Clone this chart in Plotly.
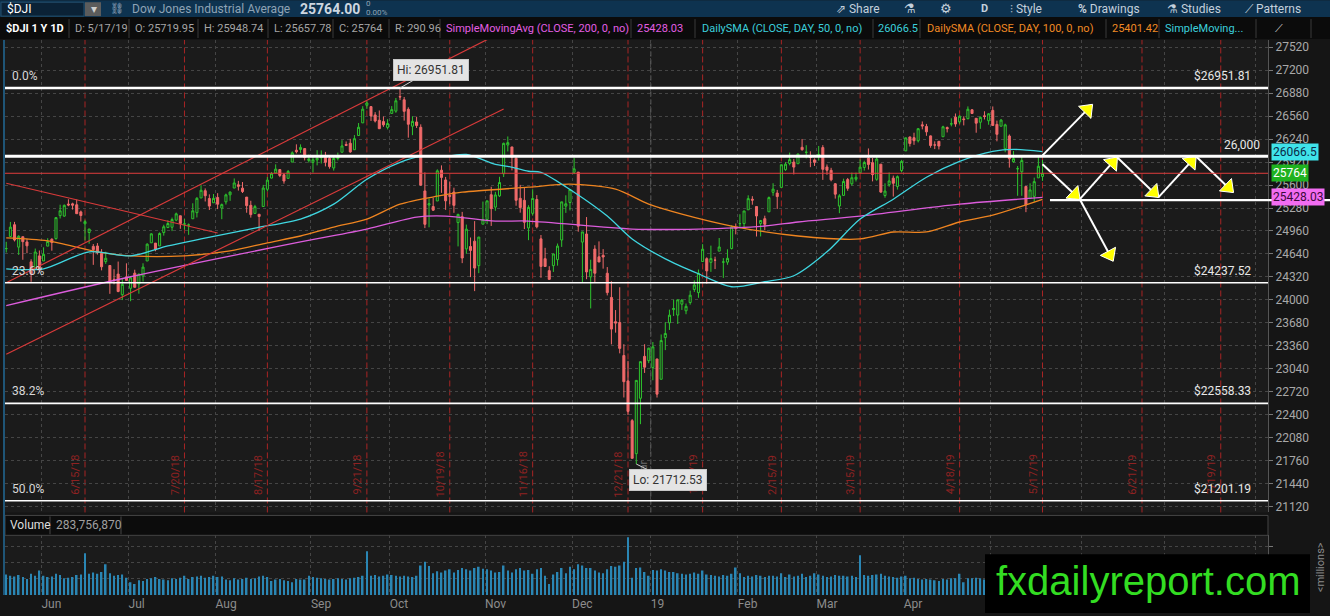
import pandas as pd
import plotly.graph_objects as go

# page geometry (pixels) and helpers to place paper-referenced decorations
W, H = 1330, 616
ML, MR, MT, MB = 5, 62, 40, 18
PW, PH = W - ML - MR, H - MT - MB


def px(x):
    return (x - ML) / PW


def py(y):
    return (H - MB - y) / PH


# trading calendar
holidays = ['2018-05-28', '2018-07-04', '2018-09-03', '2018-11-22', '2018-12-05', '2018-12-25',
            '2019-01-01', '2019-01-21', '2019-02-18', '2019-04-19', '2019-05-27', '2019-07-04']
days = [d.strftime('%Y-%m-%d') for d in pd.bdate_range('2018-05-18', '2019-08-09')
        if d.strftime('%Y-%m-%d') not in holidays]


def pos(d):
    return days.index(d)


# ---- $DJI daily candles 5/18/18 .. 5/17/19 ----
open_ = [24713, 24883, 25047, 24735, 24880, 24807, 24530, 24435, 24613, 24542,
         24749, 24845, 24853, 25174, 25167, 25335, 25338, 25325, 25226, 25061,
         24939, 24745, 24751, 24648, 24533, 24479, 24287, 24359, 24072, 24319,
         24161, 24372, 24221, 24333, 24542, 24795, 24791, 24752, 24938, 25008,
         25012, 25111, 25172, 25057, 25040, 25130, 25215, 25420, 25521, 25412,
         25353, 25427, 25279, 25366, 25464, 25558, 25603, 25557, 25432, 25317,
         25205, 25193, 25301, 25541, 25697, 25768, 25815, 25743, 25693, 25920,
         26085, 26095, 26108, 25941, 25916, 25950, 25979, 25986, 25971, 25838,
         25969, 26057, 26164, 26182, 26092, 26290, 26466, 26711, 26693, 26577,
         26503, 26484, 26403, 26598, 26630, 26833, 26788, 26655, 26420, 26479,
         26404, 25518, 25322, 25300, 25378, 25807, 25671, 25455, 25503, 25077,
         25159, 24710, 24744, 24818, 24477, 25055, 25120, 25465, 25293, 25449,
         25757, 26158, 26131, 25973, 25415, 25387, 25002, 25206, 25399, 24850,
         24574, 24407, 24477, 24561, 24834, 25306, 25357, 25779, 25780, 24805,
         24918, 24321, 24708, 24600, 24621, 24371, 24034, 23696, 23684, 23224,
         22871, 22317, 21857, 22629, 23213, 23153, 23058, 23177, 22894, 23474,
         23680, 23864, 23788, 23940, 23848, 23963, 24145, 24101, 24534, 24574,
         24523, 24553, 24679, 24526, 24526, 24716, 25011, 25062, 25063, 25255,
         25402, 25300, 25064, 25131, 25227, 25499, 25488, 25567, 25814, 25901,
         25920, 25897, 26126, 26055, 25988, 25950, 26019, 26122, 25852, 25805,
         25618, 25308, 25456, 25676, 25618, 25681, 25770, 25845, 25975, 25912,
         25680, 25891, 25454, 25605, 25696, 25580, 25802, 26076, 26270, 26260,
         26217, 26439, 26417, 26285, 26159, 26209, 26273, 26401, 26451, 26546,
         26480, 26521, 26525, 26649, 26530, 26475, 26565, 26496, 26640, 26445,
         26420, 26106, 26283, 25925, 25827, 25784, 25580, 25412, 25442, 25700, 25719.95]
high_ = [24809, 25086, 25087, 24901, 24880, 24850, 24566, 24715, 24688, 24732,
         24859, 24858, 25147, 25326, 25329, 25402, 25354, 25398, 25244, 25116,
         24990, 24778, 24791, 24707, 24671, 24479, 24427, 24534, 24300, 24509,
         24326, 24420, 24370, 24510, 24788, 24928, 24791, 24940, 25047, 25110,
         25147, 25216, 25172, 25130, 25065, 25346, 25432, 25598, 25553, 25470,
         25475, 25487, 25342, 25480, 25511, 25692, 25658, 25642, 25432, 25381,
         25324, 25193, 25602, 25712, 25781, 25888, 25822, 25766, 25810, 26069,
         26167, 26167, 26108, 26025, 26009, 26086, 26083, 26062, 26008, 25991,
         26052, 26225, 26207, 26244, 26296, 26464, 26699, 26770, 26693, 26616,
         26639, 26555, 26518, 26700, 26813, 26951.81, 26827, 26683, 26559, 26552,
         26446, 25776, 25413, 25424, 25819, 25874, 25713, 25650, 25563, 25200,
         25226, 25049, 24869, 25097, 24878, 25370, 25380, 25576, 25505, 25715,
         26191, 26277, 26131, 26017, 25602, 25562, 25319, 25541, 25460, 24904,
         24725, 24469, 24640, 24785, 25366, 25457, 25538, 25980, 25780, 24947,
         25154, 24560, 24761, 24815, 24707, 24457, 24260, 23858, 24176, 23382,
         23150, 22339, 22878, 23139, 23382, 23333, 23413, 23177, 23518, 23688,
         23864, 24003, 24002, 24012, 23949, 24129, 24271, 24423, 24777, 24593,
         24756, 24602, 24862, 24582, 24705, 25039, 25064, 25193, 25239, 25457,
         25445, 25300, 25114, 25173, 25440, 25625, 25532, 25883, 25919, 26052,
         25964, 26040, 26242, 26155, 26070, 25971, 26144, 26156, 25887, 25840,
         25628, 25473, 25689, 25699, 25773, 25773, 25957, 25939, 26110, 25976,
         26010, 25891, 25624, 25775, 25732, 25734, 25950, 26259, 26275, 26329,
         26392, 26486, 26452, 26291, 26209, 26209, 26426, 26415, 26530, 26597,
         26574, 26558, 26696, 26655, 26530, 26556, 26628, 26602, 26695, 26498,
         26520, 26455, 26305, 26076, 25865, 26002, 25580, 25624, 25703, 25991, 25948.74]
low_ = [24660, 24883, 24814, 24626, 24559, 24650, 24252, 24435, 24380, 24542,
        24749, 24685, 24840, 25134, 25158, 25305, 25258, 25201, 25091, 24829,
        24782, 24488, 24631, 24411, 24501, 24084, 24217, 24106, 23997, 24264,
        23981, 24174, 24086, 24256, 24542, 24795, 24677, 24752, 24895, 24999,
        24958, 25096, 24990, 24980, 24906, 25130, 25148, 25420, 25371, 25252,
        25353, 25265, 25124, 25328, 25380, 25558, 25523, 25489, 25214, 25146,
        25205, 24965, 25301, 25512, 25692, 25768, 25710, 25619, 25693, 25920,
        26041, 26048, 25943, 25913, 25774, 25874, 25900, 25860, 25828, 25801,
        25943, 26057, 26143, 26048, 26092, 26290, 26466, 26661, 26493, 26472,
        26380, 26411, 26375, 26598, 26607, 26783, 26498, 26260, 26295, 26395,
        25587, 25000, 25011, 25239, 25378, 25491, 25254, 25332, 25213, 24745,
        24512, 24642, 24317, 24122, 24372, 25055, 25055, 25030, 25241, 25434,
        25712, 26068, 25804, 25312, 25215, 24987, 24832, 25175, 24997, 24308,
        24464, 24279, 24389, 24477, 24738, 25212, 25246, 25752, 24950, 24242,
        24288, 23881, 24242, 24527, 24435, 24062, 23380, 23543, 23255, 22640,
        22396, 21792, 21712.53, 22268, 22982, 23118, 22880, 22639, 22894, 23300,
        23581, 23775, 23664, 23860, 23800, 23933, 24111, 24029, 24534, 24225,
        24390, 24429, 24679, 24306, 24489, 24703, 24913, 24999, 25002, 25255,
        25326, 24883, 24884, 24969, 25227, 25450, 25267, 25567, 25798, 25874,
        25748, 25897, 26079, 25971, 25849, 25866, 25940, 25672, 25743, 25652,
        25411, 25208, 25452, 25520, 25592, 25649, 25761, 25801, 25816, 25651,
        25659, 25491, 25423, 25576, 25440, 25537, 25776, 26076, 26137, 26160,
        26193, 26376, 26286, 26120, 26101, 26096, 26273, 26333, 26418, 26412,
        26452, 26431, 26516, 26589, 26329, 26383, 26514, 26440, 26427, 26209,
        26418, 26057, 25843, 25909, 25450, 25450, 25222, 25412, 25368, 25698, 25657.78]
close_ = [24715, 25013, 24834, 24886, 24811, 24753, 24361, 24667, 24416, 24635,
          24813, 24799, 25146, 25241, 25317, 25322, 25320, 25201, 25175, 25090,
          24987, 24700, 24657, 24461, 24580, 24252, 24283, 24117, 24216, 24271,
          24307, 24175, 24357, 24456, 24776, 24920, 24700, 24925, 25019, 25064,
          25120, 25199, 25064, 25058, 25044, 25241, 25415, 25527, 25451, 25307,
          25415, 25333, 25327, 25463, 25502, 25629, 25583, 25509, 25313, 25188,
          25299, 25162, 25558, 25669, 25758, 25822, 25733, 25656, 25790, 26049,
          26064, 26124, 25986, 25964, 25952, 25974, 25995, 25916, 25857, 25971,
          25998, 26145, 26154, 26062, 26246, 26405, 26657, 26743, 26562, 26492,
          26385, 26439, 26458, 26651, 26774, 26828, 26627, 26447, 26487, 26430,
          25599, 25053, 25340, 25250, 25798, 25706, 25380, 25444, 25317, 25191,
          24583, 24985, 24689, 24443, 24875, 25116, 25380, 25271, 25462, 25635,
          26181, 26191, 25989, 25387, 25286, 25081, 25289, 25413, 25018, 24466,
          24465, 24286, 24640, 24749, 25366, 25339, 25538, 25826, 25027, 24947,
          24389, 24424, 24371, 24528, 24597, 24101, 23593, 23676, 23324, 22860,
          22446, 21792, 22878, 23139, 23062, 23327, 23346, 22686, 23433, 23531,
          23787, 23879, 24001, 23996, 23910, 24065, 24207, 24370, 24706, 24404,
          24575, 24553, 24737, 24528, 24579, 25014, 24999, 25063, 25239, 25411,
          25390, 25169, 25106, 25053, 25425, 25543, 25439, 25883, 25891, 25954,
          25850, 26031, 26092, 26057, 25985, 25916, 26026, 25819, 25806, 25673,
          25473, 25450, 25650, 25554, 25702, 25709, 25849, 25914, 25887, 25745,
          25962, 25502, 25516, 25657, 25625, 25717, 25929, 26258, 26179, 26218,
          26385, 26425, 26341, 26151, 26158, 26143, 26412, 26385, 26453, 26450,
          26559, 26512, 26656, 26597, 26462, 26543, 26555, 26593, 26430, 26307,
          26505, 26439, 25966, 25968, 25828, 25942, 25324, 25532, 25648, 25862, 25764]
# volume, millions
volume = [320, 300, 290, 310, 280, 250, 330, 300, 380,
          300, 280, 290, 330, 310, 260, 270, 280, 310, 320, 650, 330, 350, 330, 360, 480, 340, 300, 310, 320, 270,
          200, 170, 230, 220, 250, 260, 280, 250, 240, 230, 260, 250, 270, 300, 250, 280, 290, 300, 270, 280, 300,
          280, 290, 240, 230, 260, 240, 250, 270, 250, 260, 290, 300, 280, 220, 240, 250, 230, 220, 200, 250, 240, 240, 300,
          280, 270, 260, 250, 240, 250, 260, 250, 240, 260, 270, 280, 300, 680, 300, 310, 290, 300, 320,
          310, 300, 290, 300, 290, 280, 300, 460, 520, 450, 340, 370, 350, 380, 400, 350, 390, 420, 400, 380, 420, 440, 410,
          400, 380, 350, 360, 460, 380, 350, 400, 420, 380, 390, 330, 400, 420, 300, 170, 320, 360, 420, 340, 440,
          400, 480, 460, 420, 420, 380, 350, 340, 400, 450, 440, 460, 520, 900, 270, 420, 430, 360, 300,
          390, 380, 400, 380, 360, 360, 340, 330, 320, 330, 350, 330, 380, 320, 310, 300, 290, 310, 300, 330, 430,
          340, 280, 300, 290, 310, 300, 280, 300, 300, 290, 340, 280, 320, 290, 300, 330, 280, 300, 340,
          320, 300, 280, 290, 310, 300, 300, 290, 300, 280, 620, 310, 300, 310, 320, 330, 300, 290, 280, 270, 290,
          300, 260, 270, 250, 240, 250, 240, 230, 220, 250, 240, 260, 260, 330, 200, 260, 260, 270, 260, 240, 290,
          300, 290, 260, 330, 390, 330, 320, 340, 380, 310, 290, 280, 283.75687]

# moving averages
sma200_dates = ['2018-05-18', '2018-07-02', '2018-08-29', '2018-09-21', '2018-10-09', '2018-10-18', '2018-11-05',
                '2018-11-15', '2018-12-24', '2019-01-17', '2019-02-11', '2019-02-22', '2019-03-15', '2019-04-18',
                '2019-05-17']
sma200 = [23920, 24322, 24807, 24987, 25154, 25168, 25098, 25098, 24987, 24987, 25029, 25085, 25168, 25334, 25428.03]
sma50_dates = ['2018-05-18', '2018-06-01', '2018-06-18', '2018-07-02', '2018-07-16', '2018-07-26', '2018-08-14',
               '2018-08-29', '2018-09-11', '2018-09-21', '2018-10-03', '2018-10-10', '2018-10-18', '2018-10-25',
               '2018-11-05', '2018-11-08', '2018-11-15', '2018-11-20', '2018-12-03', '2018-12-14', '2018-12-24',
               '2019-01-07', '2019-01-17', '2019-01-30', '2019-02-11', '2019-02-21', '2019-03-05', '2019-03-15',
               '2019-03-27', '2019-04-08', '2019-04-18', '2019-05-01', '2019-05-08', '2019-05-17']
sma50 = [24433, 24433, 24669, 24613, 24752, 24849, 25001, 25126, 25334, 25681, 25916, 26000, 26000, 26027,
         25889, 25861, 25792, 25778, 25500, 25168, 24849, 24572, 24364, 24183, 24253, 24336, 24669, 25126,
         25403, 25709, 25930, 26069, 26097, 26066.5]
sma100_dates = ['2018-05-18', '2018-06-04', '2018-06-20', '2018-07-02', '2018-07-20', '2018-08-06', '2018-08-17',
                '2018-08-29', '2018-09-11', '2018-09-21', '2018-10-03', '2018-10-16', '2018-10-24', '2018-11-15',
                '2018-11-30', '2018-12-18', '2018-12-31', '2019-01-11', '2019-01-30', '2019-02-22', '2019-03-15',
                '2019-03-27', '2019-04-08', '2019-04-18', '2019-05-01', '2019-05-17']
sma100 = [24863, 24821, 24669, 24613, 24613, 24683, 24794, 24890, 25015, 25126, 25334, 25445, 25500, 25570,
          25612, 25542, 25334, 25195, 25029, 24890, 24849, 24946, 24946, 25085, 25181, 25401.42]

# drawings
fib_levels = [26951.81, 24237.52, 22558.33, 21201.19]
fib_labels = ['0.0%', '23.6%', '38.2%', '50.0%']
resistance = 26000
last_close = 25764
support = 25390
trend_lines = [(('2018-05-18', 24239), ('2018-11-05', 27685)),
               (('2018-05-18', 23243), ('2018-11-07', 26660)),
               (('2018-05-18', 25625), ('2018-08-01', 24932))]
expiry_dates = ['2018-06-15', '2018-07-20', '2018-08-17', '2018-09-21', '2018-10-19', '2018-11-16',
                '2018-12-21', '2019-01-18', '2019-02-15', '2019-03-15', '2019-04-18', '2019-05-17',
                '2019-06-21', '2019-07-19']
arrows = [(('2019-05-17', 26013), ('2019-06-05', 26720)),
          (('2019-05-17', 25889), ('2019-05-31', 25403)),
          (('2019-05-31', 25403), ('2019-06-13', 25986)),
          (('2019-05-31', 25403), ('2019-06-12', 24544)),
          (('2019-06-13', 25986), ('2019-06-27', 25431)),
          (('2019-06-27', 25431), ('2019-07-11', 26000)),
          (('2019-07-11', 26000), ('2019-07-24', 25500))]
month_starts = ['2018-06-01', '2018-07-02', '2018-08-01', '2018-09-04', '2018-10-01', '2018-11-01',
                '2018-12-03', '2019-01-02', '2019-02-01', '2019-03-01', '2019-04-01', '2019-05-01',
                '2019-06-03', '2019-07-01', '2019-08-01']
month_labels = ['Jun', 'Jul', 'Aug', 'Sep', 'Oct', 'Nov', 'Dec', '19', 'Feb', 'Mar', 'Apr', '', '', '', '']

FONT = 'Roboto, "Open Sans", sans-serif'
BG = '#1b1b1b'
xr = [-0.3, pos('2019-08-05') + 0.4]


def xp(i):
    return (i - xr[0]) / (xr[1] - xr[0])


idx = list(range(len(close_)))

fig = go.Figure()
fig.add_trace(go.Candlestick(
    x=idx, open=open_, high=high_, low=low_, close=close_,
    increasing=dict(line=dict(color='#2ec52e', width=1), fillcolor=BG),
    decreasing=dict(line=dict(color='#f06a6a', width=1), fillcolor='#f06a6a'),
    whiskerwidth=0, hoverinfo='skip'))
for ds, vals, col in [(sma100_dates, sma100, '#ee8420'), (sma200_dates, sma200, '#dc5cdc'),
                      (sma50_dates, sma50, '#3fd6e0')]:
    fig.add_trace(go.Scatter(x=[pos(d) for d in ds], y=vals, mode='lines',
                             line=dict(color=col, width=1.3, shape='spline', smoothing=0.8),
                             hoverinfo='skip'))
for (d0, p0), (d1, p1) in arrows:
    fig.add_trace(go.Scatter(
        x=[pos(d0), pos(d1)], y=[p0, p1], mode='lines',
        line=dict(color='white', width=2), hoverinfo='skip'))
    fig.add_trace(go.Scatter(
        x=[pos(d0), pos(d1)], y=[p0, p1], mode='markers', opacity=1,
        marker=dict(symbol='triangle-up', size=[0, 15], angleref='previous', standoff=7,
                    color='#ffff00', opacity=1, line=dict(color='#ffffff', width=1)),
        hoverinfo='skip'))
fig.add_trace(go.Bar(x=idx, y=volume, xaxis='x2', yaxis='y2', marker_color='#2a86b4',
                     marker_line_width=0, width=0.38, hoverinfo='skip'))

shapes = []
ann = []

# vertical red expiration lines and labels
for d in expiry_dates:
    shapes.append(dict(type='line', xref='x', yref='y domain', x0=pos(d), x1=pos(d), y0=0, y1=1,
                       line=dict(color='#a82424', width=1, dash='6px,3px'), layer='below'))
    t = pd.Timestamp(d)
    ann.append(dict(xref='x', yref='paper', x=pos(d), y=py(477), xshift=-9, xanchor='center', yanchor='middle',
                    text=f'{t.month}/{t.day}/{t.strftime("%y")}', textangle=-90, showarrow=False,
                    font=dict(color='#8e2222', size=11, family=FONT)))
# year divider
shapes.append(dict(type='line', xref='x', yref='y domain', x0=pos('2018-12-31') + 0.5, x1=pos('2018-12-31') + 0.5,
                   y0=0, y1=1, line=dict(color='#6a6a6a', width=1, dash='5px,3px'), layer='below'))
ann.append(dict(xref='x', yref='paper', x=pos('2018-12-31') + 0.5, y=py(474), xshift=-7, xanchor='center',
                yanchor='middle', text='Year', textangle=-90, showarrow=False,
                font=dict(color='#6c6c6c', size=11, family=FONT)))

# trend lines
for (d0, p0), (d1, p1) in trend_lines:
    shapes.append(dict(type='line', xref='x', yref='y', x0=pos(d0), y0=p0, x1=pos(d1), y1=p1,
                       line=dict(color='#d83a3a', width=1.2), layer='above'))
# horizontal levels
shapes.append(dict(type='line', xref='paper', yref='y', x0=0, x1=1, y0=last_close, y1=last_close,
                   line=dict(color='#e03c3c', width=1), layer='above'))
for lvl, lab, w in zip(fib_levels, fib_labels, [2.4, 1.6, 1.6, 1.6]):
    shapes.append(dict(type='line', xref='paper', yref='y', x0=0, x1=1, y0=lvl, y1=lvl,
                       line=dict(color='white', width=w), layer='above'))
    ann.append(dict(xref='paper', yref='y', x=px(10), y=lvl, yshift=12, xanchor='left', text=lab,
                    showarrow=False, font=dict(color='#d8d8d8', size=12, family=FONT)))
    ann.append(dict(xref='paper', yref='y', x=px(1253), y=lvl, yshift=12, xanchor='right', text=f'${lvl:.2f}',
                    showarrow=False, font=dict(color='#e8e8e8', size=12, family=FONT)))
shapes.append(dict(type='line', xref='paper', yref='y', x0=0, x1=1, y0=resistance, y1=resistance,
                   line=dict(color='white', width=3), layer='above'))
ann.append(dict(xref='paper', yref='y', x=px(1262), y=resistance, yshift=11, xanchor='right',
                text=f'{resistance:,}', showarrow=False, font=dict(color='#e8e8e8', size=12, family=FONT)))
shapes.append(dict(type='line', xref='paper', yref='y', x0=xp(pos('2019-05-20') + 0.8), x1=px(1330),
                   y0=support, y1=support, line=dict(color='white', width=2.4), layer='above'))

# hi / lo bubbles
ann.append(dict(xref='x', yref='y', x=pos('2018-10-03'), y=max(high_), ax=31, ay=-18,
                text=f'Hi: {max(high_):.2f}', showarrow=True, arrowhead=0, arrowcolor='#d0d0d0',
                bgcolor='#e4e4e4', bordercolor='#c8c8c8', borderpad=3,
                font=dict(color='#333333', size=12, family=FONT)))
ann.append(dict(xref='x', yref='y', x=pos('2018-12-26'), y=min(low_), ax=32, ay=16,
                text=f'Lo: {min(low_):.2f}', showarrow=True, arrowhead=0, arrowcolor='#d0d0d0',
                bgcolor='#e4e4e4', bordercolor='#c8c8c8', borderpad=3,
                font=dict(color='#333333', size=12, family=FONT)))

# price tags on the axis
for val, txt, bg, fc in [(sma50[-1], '26066.5', '#3fe3ea', '#0b2a48'),
                         (close_[-1], '25764', '#1fb21f', '#ffffff'),
                         (sma200[-1], '25428.03', '#f26cf2', '#3a0a3a')]:
    ann.append(dict(xref='paper', yref='y', x=1, y=val, xanchor='left', yanchor='middle', xshift=3, text=txt,
                    showarrow=False, bgcolor=bg, borderpad=1,
                    font=dict(color=fc, size=12, family=FONT)))

# header bars
shapes += [
    dict(type='rect', xref='paper', yref='paper', x0=px(0), x1=px(W), y0=py(17), y1=py(0),
         fillcolor='#0e3350', line_width=0),
    dict(type='rect', xref='paper', yref='paper', x0=px(1), x1=px(84), y0=py(16), y1=py(2),
         fillcolor='#0b2236', line=dict(color='#24506e', width=1)),
    dict(type='rect', xref='paper', yref='paper', x0=px(85), x1=px(101), y0=py(16), y1=py(2),
         fillcolor='#5c5c5c', line_width=0),
    dict(type='rect', xref='paper', yref='paper', x0=px(0), x1=px(W), y0=py(39), y1=py(17),
         fillcolor='#0b0b0b', line_width=0),
    dict(type='rect', xref='paper', yref='paper', x0=px(5), x1=px(1268), y0=py(538), y1=py(518),
         fillcolor='#0c0c0c', line=dict(color='#454545', width=1)),
    dict(type='line', xref='paper', yref='paper', x0=px(4), x1=px(4), y0=py(598), y1=py(40),
         line=dict(color='#1f5577', width=2)),
    dict(type='rect', xref='paper', yref='paper', x0=px(985), x1=px(1310), y0=py(616), y1=py(557),
         fillcolor='#000000', line_width=0, layer='above'),
]
for sx in [69, 129, 198, 268, 333, 389, 440, 631, 695, 873, 920, 1106, 1159, 1256, 1311]:
    shapes.append(dict(type='line', xref='paper', yref='paper', x0=px(sx), x1=px(sx), y0=py(38), y1=py(19),
                       line=dict(color='#3a3a3a', width=1)))
for sx in [50, 121]:
    shapes.append(dict(type='line', xref='paper', yref='paper', x0=px(sx), x1=px(sx), y0=py(537), y1=py(519),
                       line=dict(color='#454545', width=1)))

top_items = [('$DJI', 5, '#ffffff', 12), ('▾', 89, '#cfcfcf', 12), ('⛓', 108, '#9fb3c4', 11),
             ('Dow Jones Industrial Average', 130, '#8ea3b5', 12), ('<b>25764.00</b>', 298, '#cdd7e0', 14),
             ('⇗ Share', 834, '#c4d0dc', 12), ('⚗', 902, '#c4d0dc', 13), ('⚙', 938, '#c4d0dc', 13),
             ('<b>D</b>', 979, '#c4d0dc', 11), ('⫶ Style', 1008, '#c4d0dc', 12),
             ('<b>%</b> Drawings', 1076, '#c4d0dc', 12), ('⚗ Studies', 1165, '#c4d0dc', 12),
             ('⟋ Patterns', 1243, '#c4d0dc', 12)]
for txt, x, col, sz in top_items:
    ann.append(dict(xref='paper', yref='paper', x=px(x), y=py(8.5), xanchor='left', yanchor='middle',
                    text=txt, showarrow=False, font=dict(color=col, size=sz, family=FONT)))
ann.append(dict(xref='paper', yref='paper', x=px(364), y=py(3), xanchor='left', yanchor='middle', text='0',
                showarrow=False, font=dict(color='#8ea3b5', size=8, family=FONT)))
ann.append(dict(xref='paper', yref='paper', x=px(364), y=py(12), xanchor='left', yanchor='middle',
                text='0.00%', showarrow=False, font=dict(color='#8ea3b5', size=8, family=FONT)))

row_items = [('<b>$DJI 1 Y 1D</b>', 4, '#ffffff'), ('D: 5/17/19', 73, '#a5a5a5'),
             (f'O: {open_[-1]:.2f}', 133, '#a5a5a5'), (f'H: {high_[-1]:.2f}', 202, '#a5a5a5'),
             (f'L: {low_[-1]:.2f}', 272, '#a5a5a5'), (f'C: {close_[-1]}', 337, '#a5a5a5'),
             ('R: 290.96', 393, '#a5a5a5'),
             ('SimpleMovingAvg (CLOSE, 200, 0, no)', 444, '#e35ee3'), ('25428.03', 635, '#e35ee3'),
             ('DailySMA (CLOSE, DAY, 50, 0, no)', 700, '#3ccfdc'), ('26066.5', 876, '#3ccfdc'),
             ('DailySMA (CLOSE, DAY, 100, 0, no)', 925, '#f08a24'), ('25401.42', 1110, '#f08a24'),
             ('SimpleMoving...', 1163, '#3ccfdc'), ('⟋', 1273, '#d0d0d0')]
for txt, x, col in row_items:
    ann.append(dict(xref='paper', yref='paper', x=px(x), y=py(28), xanchor='left', yanchor='middle',
                    text=txt, showarrow=False, font=dict(color=col, size=11, family=FONT)))

ann.append(dict(xref='paper', yref='paper', x=px(8), y=py(528), xanchor='left', yanchor='middle', text='Volume',
                showarrow=False, font=dict(color='#dcdcdc', size=12, family=FONT)))
ann.append(dict(xref='paper', yref='paper', x=px(54), y=py(528), xanchor='left', yanchor='middle',
                text=f'{round(volume[-1] * 1e6):,}', showarrow=False,
                font=dict(color='#a0a0a0', size=12, family=FONT)))
ann.append(dict(xref='paper', yref='paper', x=px(1320), y=py(570), xanchor='center', yanchor='middle',
                text='&lt;millions&gt;', textangle=-90,
                showarrow=False, font=dict(color='#8a8a8a', size=11, family=FONT)))
ann.append(dict(xref='paper', yref='paper', x=px(1148), y=py(584), xanchor='center', yanchor='middle',
                text='fxdailyreport.com', showarrow=False,
                font=dict(color='#33dd22', size=40, family='"Liberation Sans", Arial, sans-serif')))

tickvals = [pos(d) - 0.5 for d in month_starts]
grid = dict(showgrid=True, gridcolor='#454545', griddash='dot', gridwidth=1, zeroline=False)

fig.update_layout(
    width=W, height=H, autosize=False,
    margin=dict(l=ML, r=MR, t=MT, b=MB),
    paper_bgcolor='#151515', plot_bgcolor=BG,
    showlegend=False, hovermode=False,
    font=dict(family=FONT, color='#a0a0a0', size=12),
    xaxis=dict(domain=[0, 1], anchor='y', range=xr, tickvals=tickvals, showticklabels=False,
               rangeslider=dict(visible=False), ticks='', **grid),
    xaxis2=dict(domain=[0, 1], anchor='y2', matches='x', range=xr, tickvals=tickvals, ticktext=month_labels,
                ticklabelposition='outside right', ticks='', tickfont=dict(color='#8c8c8c', size=12),
                **grid),
    yaxis=dict(domain=[py(515), 1], side='right', range=[21038, 27621], tick0=21120, dtick=320,
               tickformat='d', ticks='outside', ticklen=4, tickcolor='#777777', showline=True,
               linecolor='#555555', tickfont=dict(color='#a8a8a8', size=12), **grid),
    yaxis2=dict(domain=[0, py(538)], side='right', range=[0, 930], tickvals=[250, 500, 750],
                showticklabels=False, ticks='outside', ticklen=4, tickcolor='#777777', showline=True,
                linecolor='#555555', **grid),
    shapes=shapes, annotations=ann,
)

fig.write_html("out.html", config={'displayModeBar': False},
               post_script="document.body.style.margin='0';document.body.style.overflow='hidden';")
